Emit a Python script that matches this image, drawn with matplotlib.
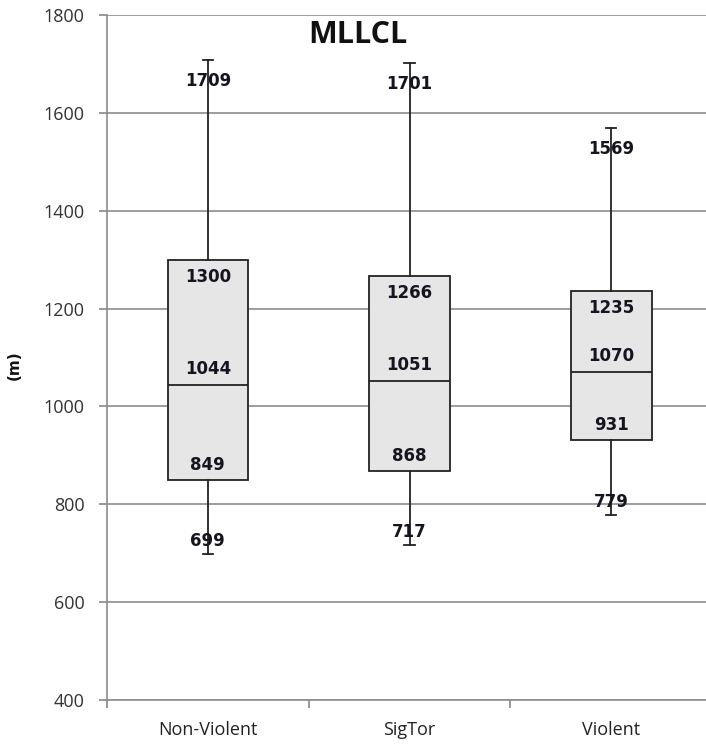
import matplotlib.pyplot as plt
import numpy as np

# data
categories = ['Non-Violent', 'SigTor', 'Violent']
whislo = [699, 717, 779]
q1 = [849, 868, 931]
med = [1044, 1051, 1070]
q3 = [1300, 1266, 1235]
whishi = [1709, 1701, 1569]
y_ticks = [400, 600, 800, 1000, 1200, 1400, 1600, 1800]

fig = plt.figure(figsize=(7.06, 7.44), dpi=100)
ax = fig.add_axes([107/706, 44/744, 605/706, 685/744])

pos = np.arange(len(categories)) + 0.5
stats = []
for i, name in enumerate(categories):
    stats.append({'label': name, 'whislo': whislo[i], 'q1': q1[i], 'med': med[i],
                  'q3': q3[i], 'whishi': whishi[i], 'fliers': []})

ax.bxp(stats, positions=pos, widths=0.4, capwidths=0.05, patch_artist=True,
       showfliers=False,
       boxprops=dict(facecolor='#e6e6e6', edgecolor='#222222', linewidth=1.3),
       medianprops=dict(color='#222222', linewidth=1.3),
       whiskerprops=dict(color='#222222', linewidth=1.3),
       capprops=dict(color='#222222', linewidth=1.3), zorder=3)

# value labels
lab = dict(ha='center', va='center', fontsize=12, fontweight='bold',
           color='#151520', textcoords='offset pixels', zorder=5)
for i, x in enumerate(pos):
    ax.annotate(str(whishi[i]), (x, whishi[i]), xytext=(0, -21), **lab)
    ax.annotate(str(q3[i]), (x, q3[i]), xytext=(0, -17), **lab)
    ax.annotate(str(med[i]), (x, med[i]), xytext=(0, 16), **lab)
    ax.annotate(str(q1[i]), (x, q1[i]), xytext=(0, 15), **lab)
    ax.annotate(str(whislo[i]), (x, whislo[i]), xytext=(0, 13), **lab)

ax.set_xlim(0, 3)
ax.set_ylim(400, 1800)
ax.set_yticks(y_ticks)
ax.set_yticklabels([str(v) for v in y_ticks], fontfamily='Open Sans', fontsize=13, color='#333333')
ax.set_xticks(pos)
ax.set_xticklabels(categories, fontfamily='Open Sans', fontsize=13, color='#222222')
ax.set_xticks([0, 1, 2, 3], minor=True)
ax.tick_params(axis='x', which='major', length=0, pad=15)
ax.tick_params(axis='x', which='minor', length=6, color='#888888', width=1.2)
ax.tick_params(axis='y', length=6, color='#888888', width=1.2, pad=10)

ax.grid(axis='y', color='#8c8c8c', linewidth=1.2, zorder=0)
ax.set_axisbelow(True)
for s in ['top', 'right']:
    ax.spines[s].set_visible(False)
for s in ['left', 'bottom']:
    ax.spines[s].set_color('#8c8c8c')
    ax.spines[s].set_linewidth(1.2)

fig.text(358/706, 1 - 35/744, 'MLLCL', ha='center', va='center', fontsize=22,
         fontweight='bold', fontfamily='Open Sans', color='#111111')
fig.text(14/706, 1 - 365/744, '(m)', ha='center', va='center', rotation=90,
         fontsize=11, fontweight='bold', color='#111111')

plt.savefig('out.png', dpi=100)
